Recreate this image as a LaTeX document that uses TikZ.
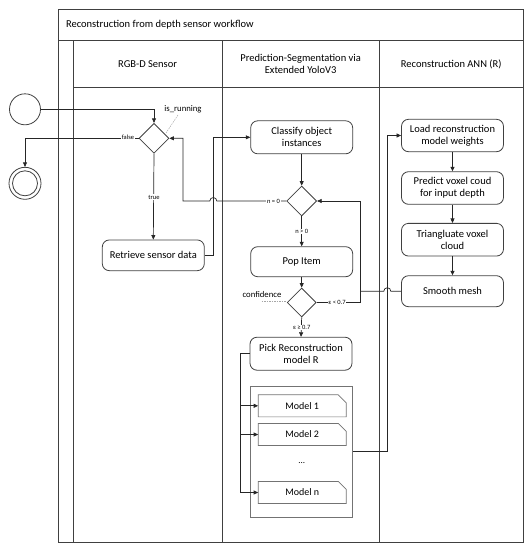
\documentclass[tikz,border=0pt]{standalone}
\usepackage{fontspec}
\setmainfont{Carlito}
\usetikzlibrary{arrows.meta,shapes.geometric}
\begin{document}
\begin{tikzpicture}[x=1pt,y=-1pt,
  frame/.style={draw=black!75,line width=0.8pt},
  act/.style={draw=black!75,line width=0.8pt,rounded corners=7pt,minimum width=102pt,align=center,inner sep=1pt,font=\fontsize{10.5}{12}\selectfont},
  dec/.style={draw=black!75,line width=0.8pt,diamond,minimum width=30pt,minimum height=30pt,inner sep=0pt},
  flow/.style={draw=black!85,line width=0.7pt,-{Triangle[length=4.5pt,width=4pt]}},
  line/.style={draw=black!85,line width=0.7pt},
  lbl/.style={fill=white,inner sep=0.6pt,font=\fontsize{6.5}{7}\selectfont},
  note/.style={font=\fontsize{8.7}{10}\selectfont,inner sep=0pt},
  anno/.style={draw=black!35,dash pattern=on 1.5pt off 1pt,line width=0.5pt},
  mdl/.style={minimum width=87.7pt,minimum height=21.7pt,inner sep=0pt,font=\fontsize{10}{12}\selectfont},
  hdr/.style={align=center,font=\fontsize{10.5}{12.5}\selectfont}]
\useasboundingbox (0,0) rectangle (532,550);
% frame
\draw[frame] (58.5,9.5) rectangle (523,542);
\draw[frame] (58.5,40.5) -- (523,40.5);
\draw[frame] (73.3,40.5) -- (73.3,542);
\draw[frame] (73.3,87) -- (523,87);
\draw[frame] (222,40.5) -- (222,542);
\draw[frame] (379.3,40.5) -- (379.3,542);
\node[hdr,anchor=west] (title) at (62.5,25) {Reconstruction from depth sensor workflow};
\node[hdr] (h1) at (147.6,64) {RGB-D Sensor};
\node[hdr] (h2) at (300.6,64) {Prediction-Segmentation via\\Extended YoloV3};
\node[hdr] (h3) at (451.2,64) {Reconstruction ANN (R)};
% start / end
\node[circle,draw=black!75,line width=0.8pt,minimum size=31pt,inner sep=0pt] (start) at (25,109.3) {};
\node[circle,draw=black!75,line width=0.8pt,minimum size=32pt,inner sep=0pt] (endn) at (25,183.3) {};
\node[circle,draw=black!75,line width=0.8pt,minimum size=25pt,inner sep=0pt] (endin) at (25,183.3) {};
% RGB-D lane
\node[dec] (d1) at (154,138.3) {};
\node[act,minimum height=30.7pt] (retrieve) at (153.3,255.3) {Retrieve sensor data};
% Prediction lane
\node[act,minimum height=33pt] (classify) at (301.7,137.3) {Classify object\\instances};
\node[dec] (d2) at (301.7,201) {};
\node[act,minimum height=30pt] (pop) at (301.7,261.7) {Pop Item};
\node[dec,minimum width=29pt,minimum height=29pt] (d3) at (301.7,302.5) {};
\node[act,minimum height=33pt] (pick) at (301,353.7) {Pick Reconstruction\\model R};
\node[draw=black!55,line width=0.7pt,minimum width=102pt,minimum height=131.3pt,inner sep=0pt] (group) at (301.7,451.7) {};
\node[mdl] (m1) at (302.2,405.8) {Model 1};
\node[mdl] (m2) at (302.2,434.5) {Model 2};
\node[mdl] (mn) at (302.2,492.5) {Model n};
\node[font=\fontsize{9}{10}\selectfont] (dots) at (301.7,463) {...};
\foreach \m in {m1,m2,mn}{
  \draw[draw=black!55,line width=0.7pt] (\m.south west) -- (\m.north west) -- ([xshift=-8pt]\m.north east) -- ([yshift=-8pt]\m.north east) -- (\m.south east) -- cycle;
}
% Reconstruction lane
\node[act,minimum height=32.4pt] (load) at (452.5,135.5) {Load reconstruction\\model weights};
\node[act,minimum height=32.6pt] (predict) at (452.5,188) {Predict voxel coud\\for input depth};
\node[act,minimum height=32.7pt] (triang) at (452.5,239.7) {Triangluate voxel\\cloud};
\node[act,minimum height=31pt] (smooth) at (452.5,291.2) {Smooth mesh};
% annotations
\node[note] (isrun) at (183,109) {is\_running};
\draw[anno] (166,133) -- (178,115);
\node[note] (conf) at (262,294.5) {confidence};
\draw[anno] (261.5,301.7) -- (285.5,301.7);
% connectors
\draw[flow] (start.east) -| (d1.north);
\draw[flow] (d1.west) -| (endn.north);
\node[lbl] (lfalse) at (128,137) {false};
\draw[flow] (d1.south) -- (retrieve.north);
\node[lbl] (ltrue) at (154,197) {true};
\draw[flow] (retrieve.east) -- ++(8.5,0) |- (classify.west);
\draw[flow] (classify.south) -- (d2.north);
\draw[flow] (d2.west) -- (216.8,201) arc[start angle=0,end angle=-180,radius=3.5] -- (183,201) |- (d1.east);
\node[lbl] (ln0) at (273.5,201) {n = 0};
\draw[flow] (d2.south) -- (pop.north);
\node[lbl] (lng) at (301.7,231.7) {n > 0};
\draw[flow] (pop.south) -- (d3.north);
\draw[flow] (d3.east) -- (360.5,302.5) |- (d2.east);
\node[lbl] (llt) at (337,302.3) {ε < 0.7};
\draw[line] (smooth.west) -- (390.8,291.2) arc[start angle=0,end angle=-180,radius=3.5] -- (360.5,291.2);
\draw[flow] (d3.south) -- (pick.north);
\node[lbl] (lge) at (301.7,327.5) {ε ≥ 0.7};
\draw[line] (pick.west) -- (240.7,353.7) -- (240.7,492.5);
\draw[flow] (240.7,405.8) -- (m1.west);
\draw[flow] (240.7,434.5) -- (m2.west);
\draw[flow] (240.7,492.5) -- (mn.west);
\draw[flow] (group.east) -- (387.3,451.7) |- (load.west);
\draw[flow] (load.south) -- (predict.north);
\draw[flow] (predict.south) -- (triang.north);
\draw[flow] (triang.south) -- (smooth.north);
\end{tikzpicture}
\end{document}
